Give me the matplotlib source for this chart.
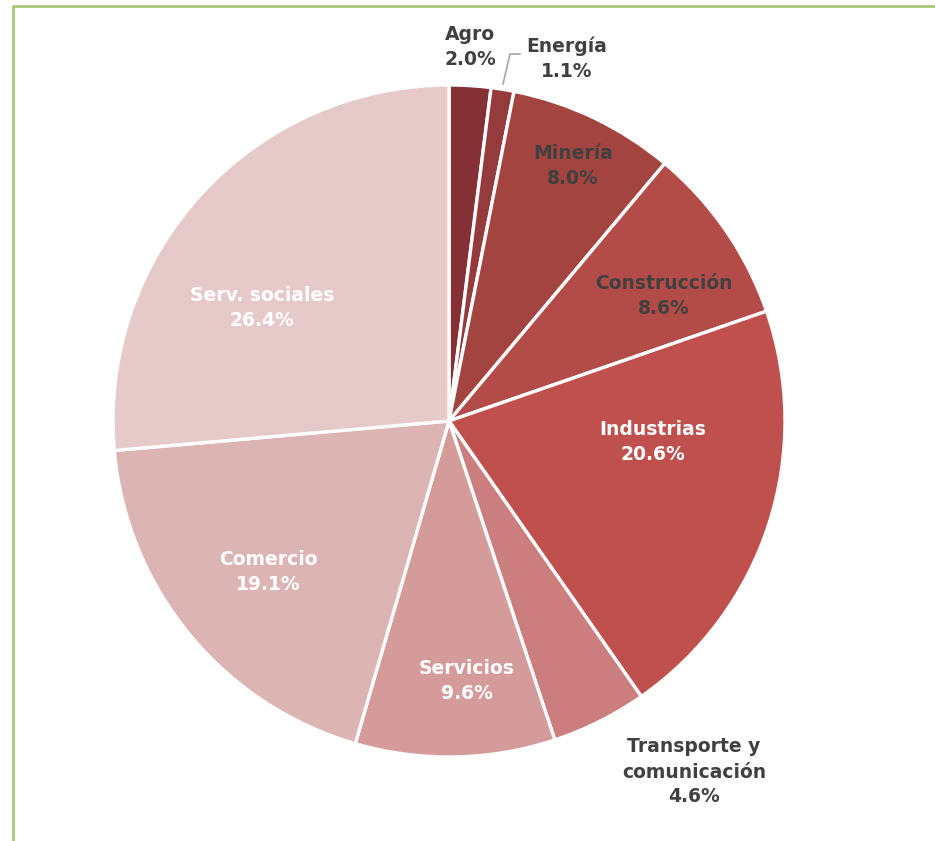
import matplotlib
matplotlib.use("Agg")
import matplotlib.pyplot as plt

categories = ["Agro", "Energía", "Minería", "Construcción", "Industrias",
              "Transporte y\ncomunicación", "Servicios", "Comercio", "Serv. sociales"]
values = [2.0, 1.1, 8.0, 8.6, 20.6, 4.6, 9.6, 19.1, 26.4]
colors = ["#843034", "#963b3b", "#a44441", "#b34b48", "#c0504d",
          "#cb7e7d", "#d59b9b", "#ddb4b4", "#e6caca"]
label_colors = ["#404040", "#404040", "#404040", "#404040", "white",
                "#404040", "white", "white", "white"]
label_pos = [(470, 47), (567, 59), (573, 166), (664, 296), (653, 442),
             (694, 772), (467, 681), (268, 572), (262, 308)]

W, H = 935, 841
fig = plt.figure(figsize=(W / 100, H / 100), dpi=100)
ax = fig.add_axes([0, 0, 1, 1])

cx, cy, r = 449, 421, 336
# y axis is inverted below, so start at -90 and run counterclockwise in data
# coordinates to appear clockwise from 12 o'clock on screen
wedges, _ = ax.pie(values, colors=colors, startangle=-90, counterclock=True,
                   center=(cx, cy), radius=r, frame=True,
                   wedgeprops=dict(edgecolor="white", linewidth=2.4))
ax.set_xlim(0, W)
ax.set_ylim(H, 0)
ax.set_aspect("equal")
ax.axis("off")

# green frame
ax.plot([12.5, 12.5, W + 5], [H + 5, 5.5, 5.5], color="#a9c878", lw=2.0,
        solid_capstyle="butt", clip_on=False)

for name, v, col, (x, y) in zip(categories, values, label_colors, label_pos):
    ax.text(x, y, f"{name}\n{v:.1f}%", ha="center", va="center",
            color=col, fontsize=13.5, fontweight="bold", family="DejaVu Sans",
            linespacing=1.4)

# leader line for Energía
ax.plot([503, 510, 520], [84, 54, 54], color="#a6a6a6", lw=1.2)

fig.savefig("out.png", dpi=100)
